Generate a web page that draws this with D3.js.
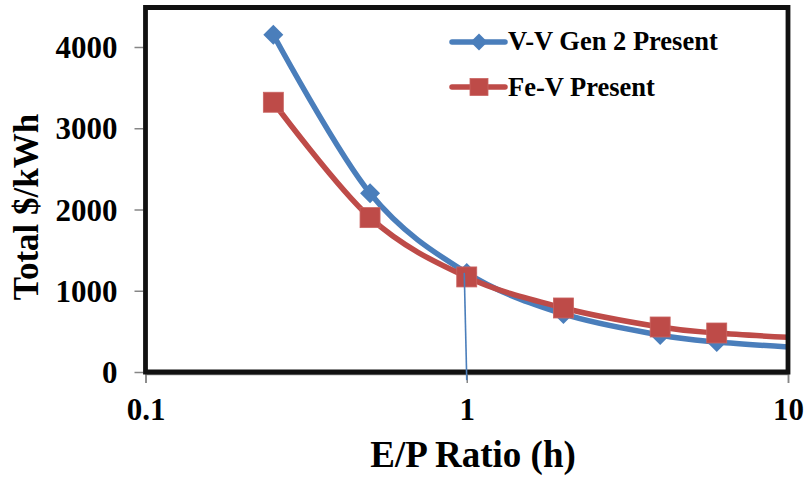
<!DOCTYPE html>
<html>
<head>
<meta charset="utf-8">
<script src="https://cdn.jsdelivr.net/npm/d3@7"></script>
<style>
  html, body { margin: 0; padding: 0; background: #fff; }
  svg { display: block; }
  text { font-family: "Liberation Serif", "Times New Roman", serif; font-weight: bold; fill: #000; }
</style>
</head>
<body>
<svg id="chart" width="806" height="479"></svg>
<script>
// ---- data ----
const epRatio = [0.25, 0.5, 1, 2, 4, 6, 12];
const vvGen2 = [4150, 2200, 1220, 714, 455, 369, 290];
const feV = [3320, 1900, 1170, 788, 554, 480, 410];
const seriesNames = ["V-V Gen 2 Present", "Fe-V Present"];
const xTicks = [0.1, 1, 10];
const xTickLabels = ["0.1", "1", "10"];
const yTicks = [0, 1000, 2000, 3000, 4000];
const dropValue = -100; // thin line at E/P = 1 reaching below zero

// ---- layout ----
const svg = d3.select("#chart");
const L = 145.5, R = 788, T = 7.5, B = 372;
const x = d3.scaleLog().domain([0.1, 10]).range([L, R]);
const y = d3.scaleLinear().domain([0, 4500]).range([B, B - 4.5 * 81.25]);

const blue = "#4A7EBB", red = "#BE4B48";
const gray = "#868686";

// clip
svg.append("defs").append("clipPath").attr("id", "plotclip")
  .append("rect").attr("x", L).attr("y", T).attr("width", R - L).attr("height", B - T + 12);

// axes ticks
const yAxis = d3.axisLeft(y).tickValues(yTicks).tickSize(9).tickFormat(d3.format("d"));
const gy = svg.append("g").attr("transform", `translate(${L - 2},0)`).call(yAxis);
gy.select(".domain").remove();
gy.selectAll(".tick line").attr("stroke", gray).attr("stroke-width", 1.5);
gy.selectAll(".tick text").attr("x", -26).attr("dy", "0.34em")
  .style("font-size", "31px").style("font-family", '"Liberation Serif", serif').style("font-weight", "bold").attr("fill", "#000");

const xAxis = d3.axisBottom(x).tickValues(xTicks).tickSize(9).tickFormat((d, i) => xTickLabels[i]);
const gx = svg.append("g").attr("transform", `translate(0,${B + 2})`).call(xAxis);
gx.select(".domain").attr("stroke", gray).attr("stroke-width", 1.5);
gx.selectAll(".tick line").attr("stroke", gray).attr("stroke-width", 1.5);
gx.selectAll(".tick text").attr("y", 46).attr("dy", 0)
  .style("font-size", "31px").style("font-family", '"Liberation Serif", serif').style("font-weight", "bold").attr("fill", "#000");

// lines
const line = d3.line().x(d => x(d[0])).y(d => y(d[1])).curve(d3.curveCatmullRom.alpha(0));
const vvData = epRatio.map((e, i) => [e, vvGen2[i]]);
const feData = epRatio.map((e, i) => [e, feV[i]]);

const plot = svg.append("g").attr("clip-path", "url(#plotclip)");
plot.append("path").datum(vvData).attr("d", line).attr("fill", "none")
  .attr("stroke", blue).attr("stroke-width", 5.5).attr("stroke-linejoin", "round");

const visible = d => d[0] <= 10;
function diamond(cx, cy, r) {
  return `M${cx},${cy - r}L${cx + r},${cy}L${cx},${cy + r}L${cx - r},${cy}Z`;
}
plot.selectAll(".dia").data(vvData.filter(visible)).join("path")
  .attr("d", d => diamond(x(d[0]), y(d[1]), 10)).attr("fill", blue);

plot.append("path").datum(feData).attr("d", line).attr("fill", "none")
  .attr("stroke", red).attr("stroke-width", 5.5).attr("stroke-linejoin", "round");
plot.selectAll(".sq").data(feData.filter(visible)).join("rect")
  .attr("x", d => x(d[0]) - 10).attr("y", d => y(d[1]) - 10)
  .attr("width", 20).attr("height", 20).attr("fill", red).attr("stroke", "#c96461").attr("stroke-width", 0.8);

// plot frame (thick black), drawn as filled ring
const fw = 2.4;
const ring = `M${L - fw},${T - fw}H${R + fw}V${B + fw}H${L - fw}Z` +
             `M${L + fw},${T + fw}V${B - fw}H${R - fw}V${T + fw}Z`;
svg.append("path").attr("d", ring).attr("fill", "#111").attr("fill-rule", "evenodd");

// thin drop line at E/P = 1
const dropIdx = epRatio.indexOf(1);
svg.append("line")
  .attr("x1", x(1) - 2.5).attr("y1", y(vvGen2[dropIdx]))
  .attr("x2", x(1)).attr("y2", y(dropValue))
  .attr("stroke", blue).attr("stroke-width", 1.6);

// legend
const lg = svg.append("g");
const legendRows = [
  { name: seriesNames[0], color: blue, shape: "diamond", ly: 42, ty: 50 },
  { name: seriesNames[1], color: red, shape: "square", ly: 87, ty: 96 }
];
legendRows.forEach(r => {
  lg.append("line").attr("x1", 452).attr("x2", 505).attr("y1", r.ly).attr("y2", r.ly)
    .attr("stroke", r.color).attr("stroke-width", 5.5).attr("stroke-linecap", "round");
  if (r.shape === "diamond") {
    lg.append("path").attr("d", diamond(479, r.ly, 8.5)).attr("fill", r.color);
  } else {
    lg.append("rect").attr("x", 470).attr("y", r.ly - 8.5).attr("width", 18).attr("height", 17)
      .attr("fill", r.color).attr("stroke", "#c96461").attr("stroke-width", 0.8);
  }
  lg.append("text").attr("x", 508).attr("y", r.ty).style("font-size", "26.5px").text(r.name);
});

// axis titles
svg.append("text").attr("x", 473).attr("y", 467).attr("text-anchor", "middle")
  .style("font-size", "37px").text("E/P Ratio (h)");
svg.append("text").attr("transform", "translate(38,207) rotate(-90)").attr("text-anchor", "middle")
  .style("font-size", "35px").text("Total $/kWh");
</script>
</body>
</html>
